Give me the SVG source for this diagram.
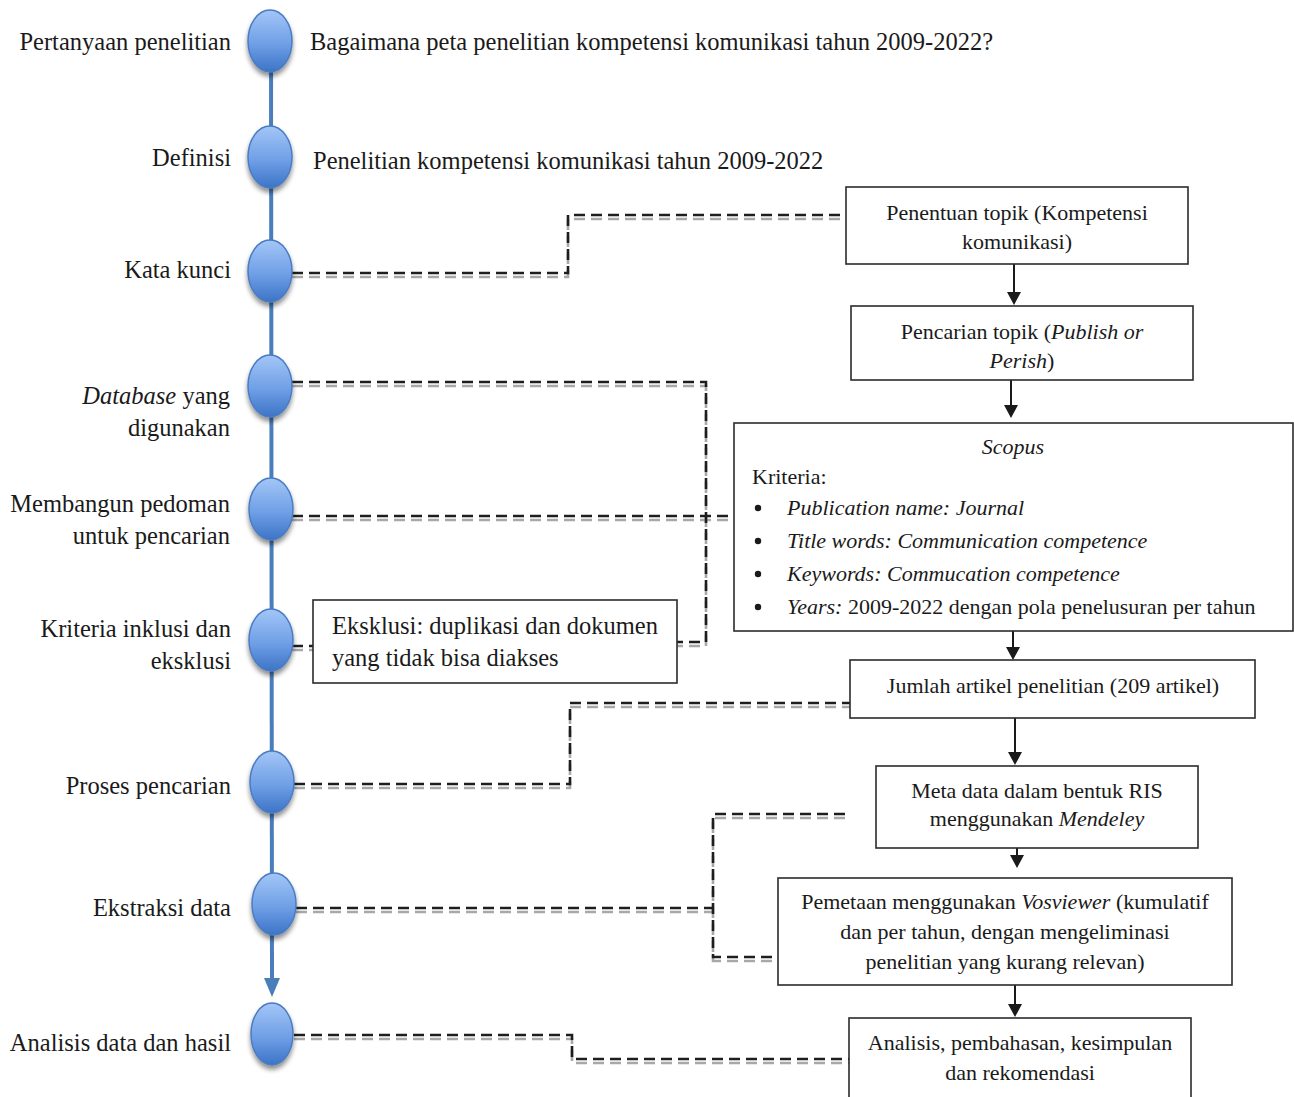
<svg xmlns="http://www.w3.org/2000/svg" xmlns:xlink="http://www.w3.org/1999/xlink" width="1294" height="1097" viewBox="0 0 1294 1097">
  <style>
    text { font-family: "Liberation Serif", "Times New Roman", serif; fill: #1a1a1a; }
    .lbl { font-size: 24.5px; text-anchor: end; }
    .q { font-size: 24.5px; }
    .bt { font-size: 22px; text-anchor: middle; }
    .it { font-style: italic; }
    .box { fill: #ffffff; stroke: #2b2b2b; stroke-width: 1.6; }
    .flow { stroke: #1a1a1a; stroke-width: 2; fill: none; }
    .head { fill: #1a1a1a; }
    .dash { fill: none; stroke: #1e1e1e; stroke-width: 2.6; stroke-dasharray: 11 6; }
    .dashs { fill: none; stroke: #a8a8a8; stroke-width: 2.6; stroke-dasharray: 11 6; }
    .node { fill: url(#bead); stroke: #4a7cc2; stroke-width: 1.5; filter: url(#sh); }
  </style>
  <defs>
    <linearGradient id="bead" x1="0" y1="0" x2="0" y2="1">
      <stop offset="0" stop-color="#a3c6f7"/>
      <stop offset="0.55" stop-color="#6f9fe6"/>
      <stop offset="1" stop-color="#3c74c6"/>
    </linearGradient>
    <filter id="sh" x="-50%" y="-50%" width="200%" height="200%">
      <feGaussianBlur in="SourceAlpha" stdDeviation="2.5"/>
      <feOffset dx="0" dy="4" result="b"/>
      <feComponentTransfer><feFuncA type="linear" slope="0.45"/></feComponentTransfer>
      <feMerge><feMergeNode/><feMergeNode in="SourceGraphic"/></feMerge>
    </filter>
    <path id="c1" d="M292 273 H568 V215 H846"/>
    <path id="c2" d="M292 382 H706 V642 H677"/>
    <path id="c3" d="M292 516 H734"/>
    <path id="c4" d="M292 646 H313"/>
    <path id="c5" d="M294 784 H570 V703 H850"/>
    <path id="c6" d="M296 908 H713"/>
    <path id="c6b" d="M845 814 H713 V957 H778"/>
    <path id="c7" d="M294 1035 H572 V1059 H849"/>
  </defs>

  <rect width="1294" height="1097" fill="#ffffff"/>

  <!-- dashed links between timeline steps and process boxes -->
  <g id="connectors">
    <g transform="translate(0,4)">
      <use xlink:href="#c1" class="dashs"/>
      <use xlink:href="#c2" class="dashs"/>
      <use xlink:href="#c3" class="dashs"/>
      <use xlink:href="#c4" class="dashs"/>
      <use xlink:href="#c5" class="dashs"/>
      <use xlink:href="#c6" class="dashs"/>
      <use xlink:href="#c6b" class="dashs"/>
      <use xlink:href="#c7" class="dashs"/>
    </g>
    <use xlink:href="#c1" class="dash"/>
    <use xlink:href="#c2" class="dash"/>
    <use xlink:href="#c3" class="dash"/>
    <use xlink:href="#c4" class="dash"/>
    <use xlink:href="#c5" class="dash"/>
    <use xlink:href="#c6" class="dash"/>
    <use xlink:href="#c6b" class="dash"/>
    <use xlink:href="#c7" class="dash"/>

    <!-- timeline spine -->
    <path d="M271 40 L272 980" stroke="#4a7ebb" stroke-width="4" fill="none"/>
    <path d="M264 978 L280 978 L272 997 Z" fill="#4a7ebb"/>

    <!-- process flow arrows -->
    <line x1="1014" y1="264" x2="1014" y2="293" class="flow"/>
    <path d="M1007 292 L1021 292 L1014 305 Z" class="head"/>
    <line x1="1011" y1="380" x2="1011" y2="406" class="flow"/>
    <path d="M1004 405 L1018 405 L1011 418 Z" class="head"/>
    <line x1="1013" y1="631" x2="1013" y2="648" class="flow"/>
    <path d="M1006 647 L1020 647 L1013 660 Z" class="head"/>
    <line x1="1015" y1="718" x2="1015" y2="753" class="flow"/>
    <path d="M1008 752 L1022 752 L1015 765 Z" class="head"/>
    <line x1="1017" y1="848" x2="1017" y2="857" class="flow"/>
    <path d="M1010 855 L1024 855 L1017 868 Z" class="head"/>
    <line x1="1015" y1="985" x2="1015" y2="1005" class="flow"/>
    <path d="M1008 1004 L1022 1004 L1015 1017 Z" class="head"/>
  </g>

  <!-- timeline steps -->
  <g id="step-pertanyaan">
    <ellipse cx="270" cy="41" rx="22" ry="31" class="node"/>
    <text x="231" y="50" class="lbl">Pertanyaan penelitian</text>
    <text x="310" y="50" class="q">Bagaimana peta penelitian kompetensi komunikasi tahun 2009-2022?</text>
  </g>
  <g id="step-definisi">
    <ellipse cx="270" cy="157" rx="22" ry="31" class="node"/>
    <text x="231" y="166" class="lbl">Definisi</text>
    <text x="313" y="169" class="q">Penelitian kompetensi komunikasi tahun 2009-2022</text>
  </g>
  <g id="step-kata-kunci">
    <ellipse cx="270" cy="271" rx="22" ry="31" class="node"/>
    <text x="231" y="278" class="lbl">Kata kunci</text>
  </g>
  <g id="step-database">
    <ellipse cx="270" cy="386" rx="22" ry="31" class="node"/>
    <text x="230" y="404" class="lbl"><tspan class="it">Database</tspan> yang</text>
    <text x="230" y="436" class="lbl">digunakan</text>
  </g>
  <g id="step-pedoman">
    <ellipse cx="271" cy="509" rx="22" ry="31" class="node"/>
    <text x="230" y="512" class="lbl">Membangun pedoman</text>
    <text x="230" y="544" class="lbl">untuk pencarian</text>
  </g>
  <g id="step-kriteria">
    <ellipse cx="271" cy="640" rx="22" ry="31" class="node"/>
    <text x="231" y="637" class="lbl">Kriteria inklusi dan</text>
    <text x="231" y="669" class="lbl">eksklusi</text>
  </g>
  <g id="step-proses">
    <ellipse cx="272" cy="782" rx="22" ry="31" class="node"/>
    <text x="231" y="794" class="lbl">Proses pencarian</text>
  </g>
  <g id="step-ekstraksi">
    <ellipse cx="274" cy="904" rx="22" ry="31" class="node"/>
    <text x="231" y="916" class="lbl">Ekstraksi data</text>
  </g>
  <g id="step-analisis">
    <ellipse cx="272" cy="1034" rx="21" ry="31" class="node"/>
    <text x="231" y="1051" class="lbl">Analisis data dan hasil</text>
  </g>

  <!-- exclusion note -->
  <g id="box-eksklusi">
    <rect x="313" y="600" width="364" height="83" class="box"/>
    <text x="332" y="634" class="q">Eksklusi: duplikasi dan dokumen</text>
    <text x="332" y="666" class="q">yang tidak bisa diakses</text>
  </g>

  <!-- process boxes -->
  <g id="box-penentuan">
    <rect x="846" y="187" width="342" height="77" class="box"/>
    <text x="1017" y="220" class="bt">Penentuan topik (Kompetensi</text>
    <text x="1017" y="249" class="bt">komunikasi)</text>
  </g>
  <g id="box-pencarian">
    <rect x="851" y="306" width="342" height="74" class="box"/>
    <text x="1022" y="339" class="bt">Pencarian topik (<tspan class="it">Publish or</tspan></text>
    <text x="1022" y="368" class="bt"><tspan class="it">Perish</tspan>)</text>
  </g>
  <g id="box-scopus">
    <rect x="734" y="423" width="559" height="208" class="box"/>
    <text x="1013" y="454" class="bt it">Scopus</text>
    <text x="752" y="484" style="font-size:22px">Kriteria:</text>
    <circle cx="758" cy="508" r="3.2" fill="#1a1a1a"/>
    <circle cx="758" cy="541" r="3.2" fill="#1a1a1a"/>
    <circle cx="758" cy="574" r="3.2" fill="#1a1a1a"/>
    <circle cx="758" cy="607" r="3.2" fill="#1a1a1a"/>
    <text x="787" y="515" style="font-size:22px" class="it">Publication name: Journal</text>
    <text x="787" y="548" style="font-size:22px" class="it">Title words: Communication competence</text>
    <text x="787" y="581" style="font-size:22px" class="it">Keywords: Commucation competence</text>
    <text x="787" y="614" style="font-size:22px"><tspan class="it">Years:</tspan> 2009-2022 dengan pola penelusuran per tahun</text>
  </g>
  <g id="box-jumlah">
    <rect x="850" y="660" width="405" height="58" class="box"/>
    <text x="1053" y="693" class="bt">Jumlah artikel penelitian (209 artikel)</text>
  </g>
  <g id="box-metadata">
    <rect x="876" y="766" width="322" height="82" class="box"/>
    <text x="1037" y="798" class="bt">Meta data dalam bentuk RIS</text>
    <text x="1037" y="826" class="bt">menggunakan <tspan class="it">Mendeley</tspan></text>
  </g>
  <g id="box-pemetaan">
    <rect x="778" y="878" width="454" height="107" class="box"/>
    <text x="1005" y="909" class="bt">Pemetaan menggunakan <tspan class="it">Vosviewer</tspan> (kumulatif</text>
    <text x="1005" y="939" class="bt">dan per tahun, dengan mengeliminasi</text>
    <text x="1005" y="969" class="bt">penelitian yang kurang relevan)</text>
  </g>
  <g id="box-analisis">
    <rect x="849" y="1018" width="342" height="90" class="box"/>
    <text x="1020" y="1050" class="bt">Analisis, pembahasan, kesimpulan</text>
    <text x="1020" y="1080" class="bt">dan rekomendasi</text>
  </g>
</svg>
